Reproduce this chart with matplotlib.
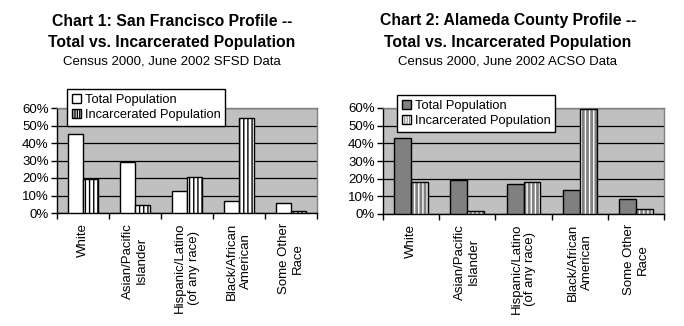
import numpy as np
import matplotlib
matplotlib.use('Agg')
import matplotlib.pyplot as plt
from matplotlib.ticker import PercentFormatter
from matplotlib.patches import Patch

plt.rcParams['font.family'] = ['Liberation Sans', 'DejaVu Sans']
plt.rcParams['hatch.linewidth'] = 1.0

categories = ['White', 'Asian/Pacific\nIslander', 'Hispanic/Latino\n(of any race)',
              'Black/African\nAmerican', 'Some Other\nRace']

sf_total = [45, 29, 12.5, 7, 6]
sf_incarcerated = [19.5, 4.5, 20.5, 54.5, 1]

ac_total = [43, 19, 17, 13.5, 8.5]
ac_incarcerated = [18, 1.5, 18, 59.5, 3]

series_names = ['Total Population', 'Incarcerated Population']
yticks = [0, 10, 20, 30, 40, 50, 60]

BG = '#c0c0c0'


def draw_chart(fig, rect, total, incarcerated, total_color, inc_face, inc_hatch, bar_w):
    ax = fig.add_axes(rect)
    ax.set_facecolor(BG)
    x = np.arange(len(categories))

    ax.bar(x - bar_w / 2, total, bar_w, color=total_color, edgecolor='black', linewidth=1, zorder=3)
    # hatch drawn first, outline on top so the stripes can be white
    ax.bar(x + bar_w / 2, incarcerated, bar_w, color=inc_face, hatch='||||',
           edgecolor=inc_hatch, linewidth=0, zorder=3)
    ax.bar(x + bar_w / 2, incarcerated, bar_w, fill=False, edgecolor='black', linewidth=1, zorder=4)

    ax.set_xlim(-0.5, len(categories) - 0.5)
    ax.set_ylim(0, 60)
    ax.set_yticks(yticks)
    ax.yaxis.set_major_formatter(PercentFormatter(decimals=0))
    ax.yaxis.grid(True, color='black', linewidth=0.9, zorder=1)
    ax.set_axisbelow(True)

    ax.set_xticks(x)
    ax.set_xticklabels(categories, rotation=90, ha='center', va='top', multialignment='center')
    ax.set_xticks(np.arange(-0.5, len(categories)), minor=True)
    ax.tick_params(axis='x', which='major', length=0, pad=7, labelsize=9.5)
    ax.tick_params(axis='x', which='minor', length=4, width=1, direction='out')
    ax.tick_params(axis='y', length=4, width=1, direction='out', pad=2, labelsize=9.5)

    for s in ['top', 'right']:
        ax.spines[s].set_color('#808080')
        ax.spines[s].set_linewidth(1)
    for s in ['left', 'bottom']:
        ax.spines[s].set_color('black')
        ax.spines[s].set_linewidth(1)
    return ax


def make_legend(fig, anchor, total_color, inc_face, inc_hatch):
    h1 = Patch(facecolor=total_color, edgecolor='black', linewidth=1)
    h2a = Patch(facecolor=inc_face, hatch='|||||||', edgecolor=inc_hatch, linewidth=0)
    h2b = Patch(fill=False, edgecolor='black', linewidth=1)
    leg = fig.legend([h1, (h2a, h2b)], series_names, loc='upper left', bbox_to_anchor=anchor,
                     bbox_transform=fig.transFigure, borderaxespad=0, fontsize=9.3,
                     handlelength=0.75, handleheight=0.75, handletextpad=0.3,
                     labelspacing=0.25, borderpad=0.35, fancybox=False, framealpha=1,
                     edgecolor='black', facecolor='white')
    leg.get_frame().set_linewidth(1)
    return leg


W, H = 684, 326
fig = plt.figure(figsize=(6.84, 3.26), dpi=100)

draw_chart(fig, [57 / W, 1 - 213 / H, 260 / W, 105 / H], sf_total, sf_incarcerated,
           'white', 'white', 'black', 0.29)
draw_chart(fig, [383 / W, 1 - 214 / H, 281 / W, 106 / H], ac_total, ac_incarcerated,
           '#808080', '#808080', 'white', 0.30)

make_legend(fig, (67 / W, 1 - 89 / H), 'white', 'white', 'black')
make_legend(fig, (397 / W, 1 - 95 / H), '#808080', '#808080', 'white')

fig.text(172 / W, 1 - 21 / H, 'Chart 1: San Francisco Profile --', ha='center', va='center',
         fontsize=11.3, fontweight='bold')
fig.text(172 / W, 1 - 42 / H, 'Total vs. Incarcerated Population', ha='center', va='center',
         fontsize=11.3, fontweight='bold')
fig.text(172 / W, 1 - 62 / H, 'Census 2000, June 2002 SFSD Data', ha='center', va='center',
         fontsize=9.5)

fig.text(508 / W, 1 - 21 / H, 'Chart 2: Alameda County Profile --', ha='center', va='center',
         fontsize=11.3, fontweight='bold')
fig.text(508 / W, 1 - 42 / H, 'Total vs. Incarcerated Population', ha='center', va='center',
         fontsize=11.3, fontweight='bold')
fig.text(508 / W, 1 - 62 / H, 'Census 2000, June 2002 ACSO Data', ha='center', va='center',
         fontsize=9.5)

fig.savefig('out.png', dpi=100, facecolor='white')
